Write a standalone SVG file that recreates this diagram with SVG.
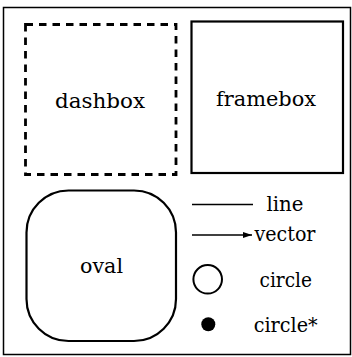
<svg xmlns="http://www.w3.org/2000/svg" width="352" height="357" viewBox="0 0 352 357">
<style>
text{font-family:'DejaVu Serif','Liberation Serif',serif;font-size:21px;fill:#000}
.box{fill:none;stroke:#000}
</style>
<defs>
<marker id="arr" markerWidth="10" markerHeight="8" refX="9" refY="4" orient="auto" markerUnits="userSpaceOnUse">
<path d="M0,1 L9,4 L0,7 Z" fill="#000"/>
</marker>
</defs>
<rect width="352" height="357" fill="#fff"/>
<g id="frame"><rect class="box" x="3.5" y="7.5" width="347" height="347" stroke-width="1.5"/></g>
<g id="dashbox">
<rect class="box" x="25.5" y="24.5" width="150.5" height="150" stroke-width="2.8" stroke-dasharray="7.5 6"/>
<text x="55" y="108" textLength="90" lengthAdjust="spacingAndGlyphs">dashbox</text>
</g>
<g id="framebox">
<rect class="box" x="191.5" y="21.5" width="151.5" height="151.5" stroke-width="2.2"/>
<text x="216" y="106" textLength="100" lengthAdjust="spacingAndGlyphs">framebox</text>
</g>
<g id="oval">
<rect class="box" x="26.5" y="190.5" width="149.5" height="150.5" rx="42" ry="42" stroke-width="2.2"/>
<text x="80" y="273" textLength="43" lengthAdjust="spacingAndGlyphs">oval</text>
</g>
<g id="connectors">
<line x1="192" y1="204.5" x2="253" y2="204.5" stroke="#000" stroke-width="1.6"/>
<line x1="192" y1="235" x2="252" y2="235" stroke="#000" stroke-width="1.6" marker-end="url(#arr)"/>
</g>
<g id="line-label"><text x="266.5" y="211" textLength="37" lengthAdjust="spacingAndGlyphs">line</text></g>
<g id="vector-label"><text x="254.5" y="241" textLength="61" lengthAdjust="spacingAndGlyphs">vector</text></g>
<g id="circle">
<circle cx="207.7" cy="279.3" r="14.3" fill="none" stroke="#000" stroke-width="2"/>
<text x="259.5" y="286.5" textLength="52.5" lengthAdjust="spacingAndGlyphs">circle</text>
</g>
<g id="circle-star">
<circle cx="208.3" cy="324.3" r="7" fill="#000"/>
<text x="253.7" y="332" textLength="64" lengthAdjust="spacingAndGlyphs">circle*</text>
</g>
</svg>
